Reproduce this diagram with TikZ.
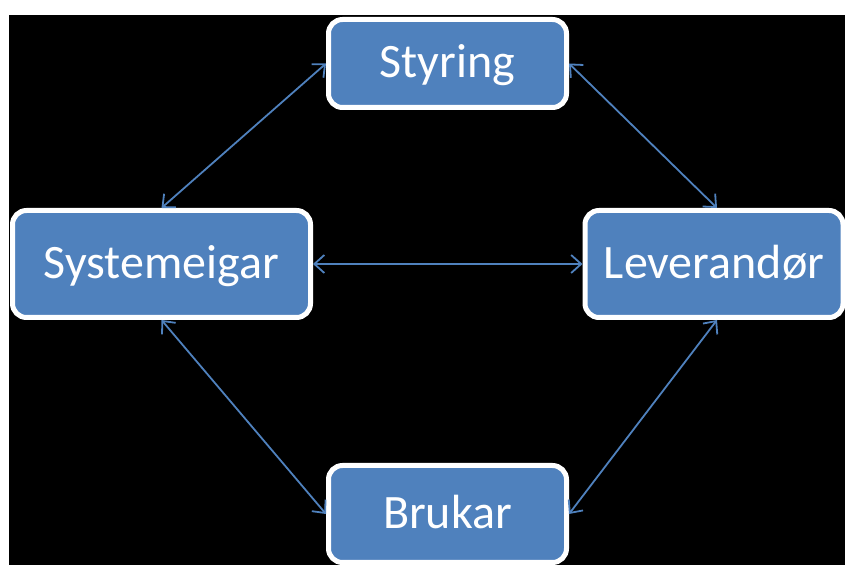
\documentclass[tikz,border=0pt]{standalone}
\usepackage{fontspec}
\setmainfont{Carlito}
\usetikzlibrary{arrows.meta}
\definecolor{boxblue}{HTML}{4F81BD}
\tikzset{
  role/.style={rectangle,rounded corners=7pt,fill=boxblue,draw=white,line width=2.5pt,
    text=white,font=\fontsize{24}{29}\selectfont,inner sep=0pt,
    text height=17pt,text depth=2.5pt},
  link/.style={boxblue,line width=0.9pt,{Straight Barb[length=5pt,width=9pt]}-{Straight Barb[length=5pt,width=9pt]}}
}

\begin{document}
\begin{tikzpicture}[x=0.5pt,y=-0.5pt]
  \useasboundingbox (0,0) rectangle (845,565);
  \fill[white] (0,0) rectangle (845,565);
  \fill[black] (9,15) rectangle (845,565);
  % boxes
  \node[role,minimum width=119pt,minimum height=44pt] (sty) at (447.5,63.5) {Styring};
  \node[role,minimum width=149pt,minimum height=53.5pt] (sys) at (161.5,264) {Systemeigar};
  \node[role,minimum width=129pt,minimum height=53.5pt] (lev) at (714,264) {Leverandør};
  \node[role,minimum width=119pt,minimum height=48.5pt] (bru) at (447.5,514) {Brukar};
  % connections
  \draw[link] (sty.west) -- (sys.north);
  \draw[link] (sty.east) -- ([xshift=1.5pt]lev.north);
  \draw[link] (sys.east) -- (lev.west);
  \draw[link] (sys.south) -- (bru.west);
  \draw[link] ([xshift=1.5pt]lev.south) -- (bru.east);
\end{tikzpicture}
\end{document}
